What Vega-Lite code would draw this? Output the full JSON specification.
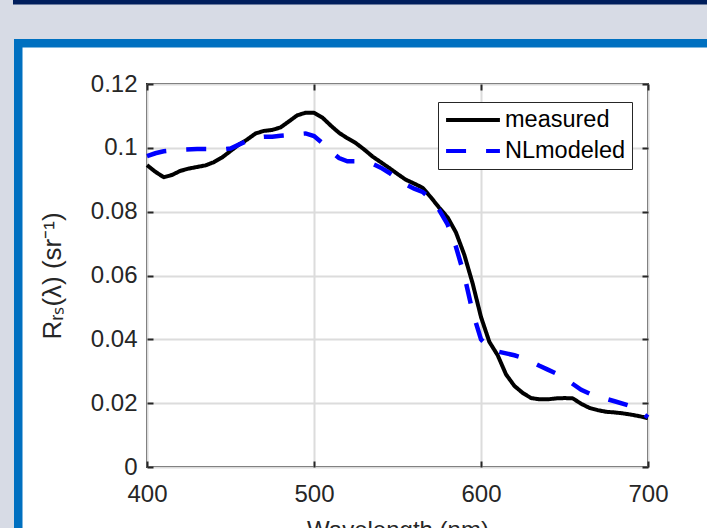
{
  "$schema": "https://vega.github.io/schema/vega-lite/v6.json",
  "width": 501,
  "height": 383,
  "autosize": {"type": "none"},
  "padding": {"left": 147, "top": 84, "right": 59, "bottom": 61},
  "background": "white",
  "config": {
    "font": "Liberation Sans",
    "view": {"stroke": "#262626", "strokeWidth": 2},
    "axis": {
      "domain": false,
      "tickColor": "#262626",
      "tickWidth": 2,
      "tickSize": -6,
      "labelColor": "#262626",
      "labelFontSize": 24,
      "labelFont": "Liberation Sans",
      "labelFlush": false,
      "labelOverlap": false,
      "labelBound": false,
      "titleColor": "#262626",
      "titleFontSize": 24,
      "titleFontWeight": "normal",
      "titleFont": "Liberation Sans",
      "gridColor": "#dcdcdc",
      "gridWidth": 2
    },
    "legend": {
      "orient": "none",
      "legendX": 291,
      "legendY": 18,
      "symbolType": "stroke",
      "symbolSize": 2900,
      "symbolStrokeWidth": 4,
      "clipHeight": 24,
      "labelFontSize": 23.5,
      "labelFont": "Liberation Sans",
      "labelColor": "#000000",
      "labelOffset": 3,
      "strokeColor": "#262626",
      "fillColor": "white",
      "padding": 6,
      "rowPadding": 7
    }
  },
  "datasets": {
    "spectra": [
      {"w": 400, "rrs": 0.0946, "series": "measured"},
      {"w": 405, "rrs": 0.0925, "series": "measured"},
      {"w": 410, "rrs": 0.0908, "series": "measured"},
      {"w": 415, "rrs": 0.0915, "series": "measured"},
      {"w": 420, "rrs": 0.0928, "series": "measured"},
      {"w": 425, "rrs": 0.0935, "series": "measured"},
      {"w": 430, "rrs": 0.0940, "series": "measured"},
      {"w": 435, "rrs": 0.0945, "series": "measured"},
      {"w": 440, "rrs": 0.0955, "series": "measured"},
      {"w": 445, "rrs": 0.0970, "series": "measured"},
      {"w": 450, "rrs": 0.0990, "series": "measured"},
      {"w": 455, "rrs": 0.1010, "series": "measured"},
      {"w": 460, "rrs": 0.1026, "series": "measured"},
      {"w": 465, "rrs": 0.1045, "series": "measured"},
      {"w": 470, "rrs": 0.1053, "series": "measured"},
      {"w": 475, "rrs": 0.1056, "series": "measured"},
      {"w": 480, "rrs": 0.1064, "series": "measured"},
      {"w": 485, "rrs": 0.1083, "series": "measured"},
      {"w": 490, "rrs": 0.1102, "series": "measured"},
      {"w": 495, "rrs": 0.1110, "series": "measured"},
      {"w": 500, "rrs": 0.1110, "series": "measured"},
      {"w": 505, "rrs": 0.1095, "series": "measured"},
      {"w": 510, "rrs": 0.1070, "series": "measured"},
      {"w": 515, "rrs": 0.1047, "series": "measured"},
      {"w": 520, "rrs": 0.1030, "series": "measured"},
      {"w": 525, "rrs": 0.1015, "series": "measured"},
      {"w": 530, "rrs": 0.0995, "series": "measured"},
      {"w": 535, "rrs": 0.0973, "series": "measured"},
      {"w": 540, "rrs": 0.0955, "series": "measured"},
      {"w": 545, "rrs": 0.0937, "series": "measured"},
      {"w": 550, "rrs": 0.0918, "series": "measured"},
      {"w": 555, "rrs": 0.0900, "series": "measured"},
      {"w": 560, "rrs": 0.0888, "series": "measured"},
      {"w": 565, "rrs": 0.0875, "series": "measured"},
      {"w": 570, "rrs": 0.0845, "series": "measured"},
      {"w": 575, "rrs": 0.0812, "series": "measured"},
      {"w": 580, "rrs": 0.0782, "series": "measured"},
      {"w": 585, "rrs": 0.0735, "series": "measured"},
      {"w": 590, "rrs": 0.0665, "series": "measured"},
      {"w": 595, "rrs": 0.0575, "series": "measured"},
      {"w": 600, "rrs": 0.0470, "series": "measured"},
      {"w": 605, "rrs": 0.0392, "series": "measured"},
      {"w": 610, "rrs": 0.0350, "series": "measured"},
      {"w": 615, "rrs": 0.0290, "series": "measured"},
      {"w": 620, "rrs": 0.0254, "series": "measured"},
      {"w": 625, "rrs": 0.0232, "series": "measured"},
      {"w": 630, "rrs": 0.0216, "series": "measured"},
      {"w": 635, "rrs": 0.0212, "series": "measured"},
      {"w": 640, "rrs": 0.0212, "series": "measured"},
      {"w": 645, "rrs": 0.0215, "series": "measured"},
      {"w": 650, "rrs": 0.0216, "series": "measured"},
      {"w": 655, "rrs": 0.0215, "series": "measured"},
      {"w": 660, "rrs": 0.0198, "series": "measured"},
      {"w": 665, "rrs": 0.0185, "series": "measured"},
      {"w": 670, "rrs": 0.0178, "series": "measured"},
      {"w": 675, "rrs": 0.0173, "series": "measured"},
      {"w": 680, "rrs": 0.0171, "series": "measured"},
      {"w": 685, "rrs": 0.0168, "series": "measured"},
      {"w": 690, "rrs": 0.0164, "series": "measured"},
      {"w": 695, "rrs": 0.0159, "series": "measured"},
      {"w": 700, "rrs": 0.0153, "series": "measured"},
      {"w": 400, "rrs": 0.0974, "series": "NLmodeled"},
      {"w": 405, "rrs": 0.0983, "series": "NLmodeled"},
      {"w": 410, "rrs": 0.0989, "series": "NLmodeled"},
      {"w": 420, "rrs": 0.0994, "series": "NLmodeled"},
      {"w": 430, "rrs": 0.0996, "series": "NLmodeled"},
      {"w": 437, "rrs": 0.0996, "series": "NLmodeled"},
      {"w": 445, "rrs": 0.0995, "series": "NLmodeled"},
      {"w": 450, "rrs": 0.0998, "series": "NLmodeled"},
      {"w": 455, "rrs": 0.1010, "series": "NLmodeled"},
      {"w": 460, "rrs": 0.1022, "series": "NLmodeled"},
      {"w": 465, "rrs": 0.1032, "series": "NLmodeled"},
      {"w": 470, "rrs": 0.1035, "series": "NLmodeled"},
      {"w": 475, "rrs": 0.1035, "series": "NLmodeled"},
      {"w": 480, "rrs": 0.1038, "series": "NLmodeled"},
      {"w": 485, "rrs": 0.1040, "series": "NLmodeled"},
      {"w": 490, "rrs": 0.1043, "series": "NLmodeled"},
      {"w": 495, "rrs": 0.1045, "series": "NLmodeled"},
      {"w": 500, "rrs": 0.1037, "series": "NLmodeled"},
      {"w": 505, "rrs": 0.1015, "series": "NLmodeled"},
      {"w": 510, "rrs": 0.0990, "series": "NLmodeled"},
      {"w": 515, "rrs": 0.0968, "series": "NLmodeled"},
      {"w": 520, "rrs": 0.0958, "series": "NLmodeled"},
      {"w": 525, "rrs": 0.0958, "series": "NLmodeled"},
      {"w": 530, "rrs": 0.0955, "series": "NLmodeled"},
      {"w": 535, "rrs": 0.0950, "series": "NLmodeled"},
      {"w": 540, "rrs": 0.0938, "series": "NLmodeled"},
      {"w": 545, "rrs": 0.0922, "series": "NLmodeled"},
      {"w": 550, "rrs": 0.0903, "series": "NLmodeled"},
      {"w": 555, "rrs": 0.0885, "series": "NLmodeled"},
      {"w": 560, "rrs": 0.0872, "series": "NLmodeled"},
      {"w": 565, "rrs": 0.0862, "series": "NLmodeled"},
      {"w": 570, "rrs": 0.0840, "series": "NLmodeled"},
      {"w": 575, "rrs": 0.0805, "series": "NLmodeled"},
      {"w": 580, "rrs": 0.0760, "series": "NLmodeled"},
      {"w": 585, "rrs": 0.0690, "series": "NLmodeled"},
      {"w": 590, "rrs": 0.0600, "series": "NLmodeled"},
      {"w": 595, "rrs": 0.0485, "series": "NLmodeled"},
      {"w": 600, "rrs": 0.0400, "series": "NLmodeled"},
      {"w": 605, "rrs": 0.0372, "series": "NLmodeled"},
      {"w": 610, "rrs": 0.0362, "series": "NLmodeled"},
      {"w": 620, "rrs": 0.0350, "series": "NLmodeled"},
      {"w": 625, "rrs": 0.0342, "series": "NLmodeled"},
      {"w": 630, "rrs": 0.0330, "series": "NLmodeled"},
      {"w": 635, "rrs": 0.0317, "series": "NLmodeled"},
      {"w": 640, "rrs": 0.0305, "series": "NLmodeled"},
      {"w": 645, "rrs": 0.0293, "series": "NLmodeled"},
      {"w": 650, "rrs": 0.0278, "series": "NLmodeled"},
      {"w": 655, "rrs": 0.0260, "series": "NLmodeled"},
      {"w": 660, "rrs": 0.0242, "series": "NLmodeled"},
      {"w": 665, "rrs": 0.0230, "series": "NLmodeled"},
      {"w": 670, "rrs": 0.0221, "series": "NLmodeled"},
      {"w": 680, "rrs": 0.0206, "series": "NLmodeled"},
      {"w": 690, "rrs": 0.0190, "series": "NLmodeled"},
      {"w": 695, "rrs": 0.0175, "series": "NLmodeled"},
      {"w": 700, "rrs": 0.0156, "series": "NLmodeled"}
    ]
  },
  "layer": [
    {
      "data": {"values": [{}]},
      "mark": {"type": "rect", "clip": false, "color": "#d7dbe5"},
      "encoding": {
        "x": {"datum": 306, "type": "quantitative", "scale": {"domain": [400, 700], "nice": false, "zero": false}, "axis": null},
        "x2": {"datum": 745},
        "y": {"datum": 0.15, "type": "quantitative", "scale": {"domain": [0, 0.12], "nice": false, "zero": false}, "axis": null},
        "y2": {"datum": 0.1341}
      }
    },
    {
      "data": {"values": [{}]},
      "mark": {"type": "rect", "clip": false, "color": "#d7dbe5"},
      "encoding": {
        "x": {"datum": 306, "type": "quantitative", "scale": {"domain": [400, 700], "nice": false, "zero": false}, "axis": null},
        "x2": {"datum": 320.36},
        "y": {"datum": 0.15, "type": "quantitative", "scale": {"domain": [0, 0.12], "nice": false, "zero": false}, "axis": null},
        "y2": {"datum": -0.025}
      }
    },
    {
      "data": {"values": [{}]},
      "mark": {"type": "rect", "clip": false, "color": "#001e5c"},
      "encoding": {
        "x": {"datum": 319.76, "type": "quantitative", "scale": {"domain": [400, 700], "nice": false, "zero": false}, "axis": null},
        "x2": {"datum": 745},
        "y": {"datum": 0.15, "type": "quantitative", "scale": {"domain": [0, 0.12], "nice": false, "zero": false}, "axis": null},
        "y2": {"datum": 0.14491}
      }
    },
    {
      "data": {"values": [{}]},
      "mark": {"type": "rect", "clip": false, "color": "#0070c0"},
      "encoding": {
        "x": {"datum": 320.36, "type": "quantitative", "scale": {"domain": [400, 700], "nice": false, "zero": false}, "axis": null},
        "x2": {"datum": 745},
        "y": {"datum": 0.1341, "type": "quantitative", "scale": {"domain": [0, 0.12], "nice": false, "zero": false}, "axis": null},
        "y2": {"datum": 0.13144}
      }
    },
    {
      "data": {"values": [{}]},
      "mark": {"type": "rect", "clip": false, "color": "#0070c0"},
      "encoding": {
        "x": {"datum": 320.36, "type": "quantitative", "scale": {"domain": [400, 700], "nice": false, "zero": false}, "axis": null},
        "x2": {"datum": 325.45},
        "y": {"datum": 0.1341, "type": "quantitative", "scale": {"domain": [0, 0.12], "nice": false, "zero": false}, "axis": null},
        "y2": {"datum": -0.025}
      }
    },
    {
      "data": {"name": "spectra"},
      "transform": [{"filter": "datum.series === 'measured'"}],
      "mark": {"type": "line", "strokeWidth": 4, "strokeJoin": "round"},
      "encoding": {
        "x": {
          "field": "w", "type": "quantitative",
          "scale": {"domain": [400, 700], "nice": false, "zero": false},
          "axis": {"orient": "bottom", "values": [400, 500, 600, 700], "format": "d", "grid": true, "labelPadding": 21, "title": "Wavelength (nm)", "titlePadding": 12}
        },
        "y": {
          "field": "rrs", "type": "quantitative",
          "scale": {"domain": [0, 0.12], "nice": false, "zero": false},
          "axis": {"orient": "left", "values": [0, 0.02, 0.04, 0.06, 0.08, 0.1, 0.12], "format": ".2~f", "grid": true, "labelPadding": 16, "title": "Rᵣₛ(λ) (sr⁻¹)", "titleFontSize": 26, "titlePadding": 25}
        },
        "color": {
          "field": "series", "type": "nominal", "title": null,
          "scale": {"domain": ["measured", "NLmodeled"], "range": ["#000000", "#0000ff"]}
        },
        "strokeDash": {
          "field": "series", "type": "nominal", "title": null,
          "scale": {"domain": ["measured", "NLmodeled"], "range": [[1, 0], [20, 20]]}
        }
      }
    },
    {
      "data": {"name": "spectra"},
      "transform": [{"filter": "datum.series === 'NLmodeled'"}],
      "mark": {"type": "line", "strokeWidth": 4.5},
      "encoding": {
        "x": {
          "field": "w", "type": "quantitative",
          "scale": {"domain": [400, 700], "nice": false, "zero": false},
          "axis": {"orient": "top", "values": [400, 500, 600, 700], "grid": false, "labels": false, "title": null}
        },
        "y": {
          "field": "rrs", "type": "quantitative",
          "scale": {"domain": [0, 0.12], "nice": false, "zero": false},
          "axis": {"orient": "right", "values": [0, 0.02, 0.04, 0.06, 0.08, 0.1, 0.12], "grid": false, "labels": false, "title": null}
        },
        "color": {"field": "series", "type": "nominal", "title": null},
        "strokeDash": {"field": "series", "type": "nominal", "title": null}
      }
    }
  ],
  "resolve": {"axis": {"x": "independent", "y": "independent"}}
}
